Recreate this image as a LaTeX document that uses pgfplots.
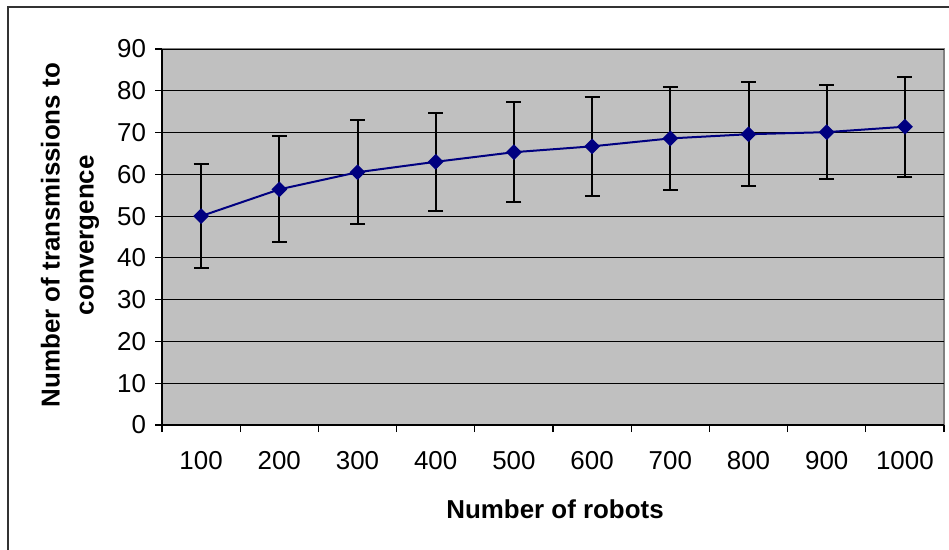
\documentclass[border=0pt]{standalone}
\usepackage{pgfplots}
\pgfplotsset{compat=1.18}
\usepackage{fontspec}
\setmainfont{Liberation Sans}
\definecolor{plotgray}{RGB}{192,192,192}
\definecolor{navyline}{RGB}{0,0,128}
\definecolor{framegray}{RGB}{128,128,128}
\begin{document}
\begin{tikzpicture}
\useasboundingbox (0,0) rectangle (474.5bp,-275bp);
\draw[line width=1bp, black!80] (4bp,-276bp) -- (4bp,-3.5bp) -- (476bp,-3.5bp);
\begin{axis}[
  at={(81bp,-212.5bp)}, anchor=south west,
  scale only axis, width=391bp, height=188bp,
  xmin=0.5, xmax=10.5, ymin=0, ymax=90,
  xtick={1,...,10},
  xticklabels={100,200,300,400,500,600,700,800,900,1000},
  minor xtick={0.5,1.5,...,10.5},
  ytick={0,10,...,90},
  tick align=outside,
  major tick length=3.5bp, minor tick length=3.5bp,
  major x tick style={draw=none},
  tick style={black, line width=0.6bp},
  axis x line*=bottom, axis y line*=left,
  axis line style={black, line width=0.8bp},
  axis background/.style={fill=plotgray, draw=framegray, line width=1bp},
  ymajorgrids,
  major grid style={black, line width=0.5bp},
  /pgf/number format/assume math mode=true,
  ticklabel style={font=\fontsize{13}{15}\selectfont},
  xticklabel style={anchor=center, yshift=-14.5bp},
  yticklabel style={xshift=-1bp},
  xlabel={Number of robots},
  xlabel style={at={(axis description cs:0.5026,-0.2234)}, anchor=center, font=\bfseries\fontsize{13}{17}\selectfont},
  ylabel={Number of transmissions to\\convergence},
  ylabel style={at={(axis description cs:-0.1176,0.505)}, anchor=center, align=center, font=\bfseries\fontsize{13}{17}\selectfont},
  clip=false,
]
\addplot[navyline, line width=1bp, mark=square*, mark size=2.3bp,
  mark options={rotate=45, fill=navyline, draw=navyline},
  error bars/.cd, y dir=both, y explicit,
  error bar style={line width=1bp, black},
  error mark options={rotate=90, mark size=3.75bp, line width=1bp, black}]
  table[x=x, y=y, y error=e] {
x y e
1 50.0 12.4
2 56.4 12.7
3 60.5 12.4
4 63.0 11.8
5 65.3 11.9
6 66.7 11.9
7 68.6 12.4
8 69.6 12.4
9 70.1 11.2
10 71.4 12.0
};
\end{axis}
\end{tikzpicture}
\end{document}
